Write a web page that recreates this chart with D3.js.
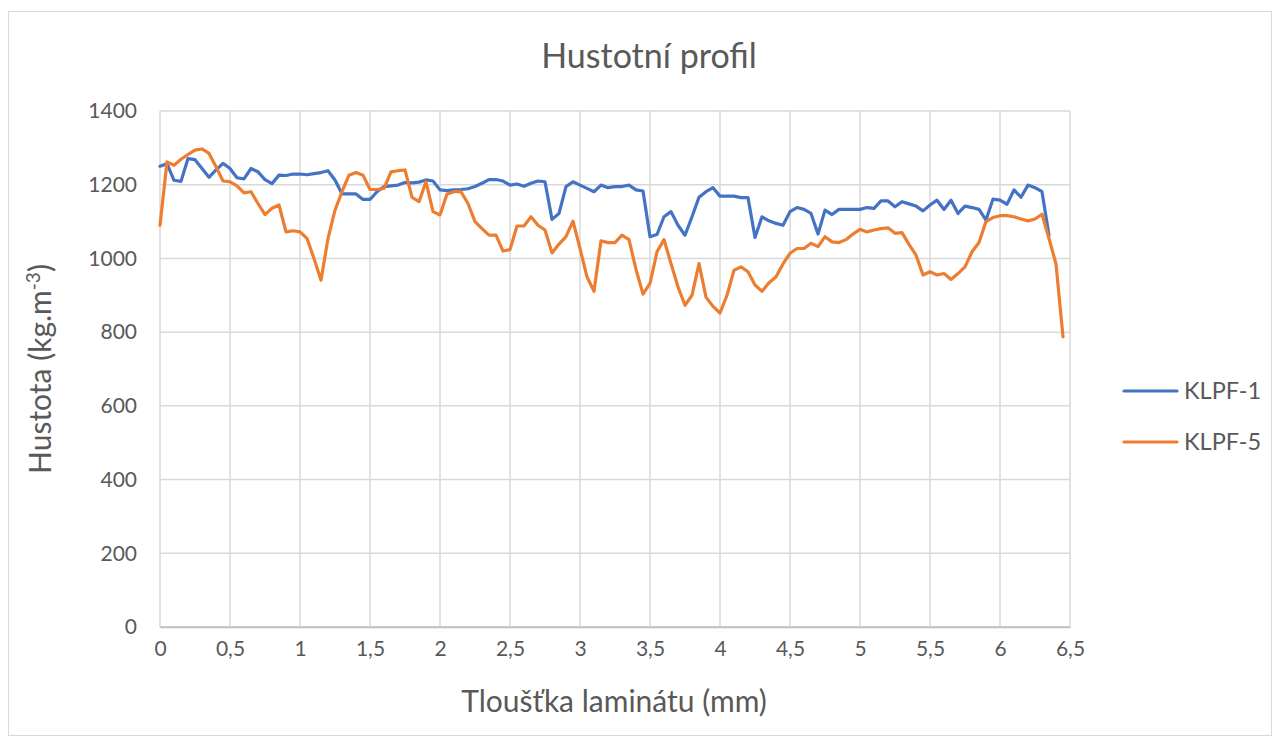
<!DOCTYPE html>
<html><head><meta charset="utf-8">
<script src="https://cdn.jsdelivr.net/npm/d3@7"></script>
<style>
body{margin:0;background:#fff}
svg text{font-family:Lato, "Open Sans", sans-serif; fill:#595959}
</style>
</head><body>
<svg id="c" width="1280" height="745"></svg>
<script>
const seriesNames = ["KLPF-1", "KLPF-5"];
const seriesColors = ["#4472C4", "#ED7D31"];
const step = 0.05; // thickness step between measured points (mm)
const klpf1 = [1250,1257,1212,1209,1271,1268,1244,1220,1240,1258,
  1244,1219,1216,1244,1235,1214,1203,1226,1225,1229,
  1229,1227,1230,1233,1238,1213,1175,1175,1175,1160,
  1160,1181,1195,1197,1199,1206,1205,1207,1213,1210,
  1186,1184,1186,1187,1189,1195,1204,1214,1214,1210,
  1199,1202,1196,1204,1210,1208,1106,1122,1195,1208,
  1199,1190,1181,1199,1192,1195,1195,1199,1186,1183,
  1059,1065,1113,1127,1090,1063,1113,1166,1181,1192,
  1169,1169,1169,1165,1165,1057,1113,1102,1095,1090,
  1127,1138,1133,1122,1066,1131,1119,1133,1133,1133,
  1133,1138,1136,1156,1156,1140,1154,1148,1142,1129,
  1145,1158,1133,1158,1122,1142,1138,1133,1104,1161,
  1158,1147,1186,1166,1199,1192,1181,1063];
const klpf5 = [1090,1262,1253,1269,1282,1294,1297,1285,1249,1210,
  1208,1197,1178,1181,1149,1119,1136,1145,1072,1075,
  1072,1054,1000,941,1054,1131,1181,1226,1233,1226,
  1187,1187,1190,1235,1238,1240,1166,1154,1208,1127,
  1118,1175,1181,1181,1149,1100,1081,1063,1063,1020,
  1024,1088,1088,1113,1090,1077,1015,1039,1059,1101,
  1027,950,911,1048,1043,1043,1063,1051,970,903,
  932,1018,1051,986,923,873,900,986,895,870,
  852,900,968,977,964,928,911,934,950,985,
  1014,1027,1027,1041,1032,1059,1045,1043,1051,1066,
  1079,1072,1077,1081,1083,1068,1070,1038,1009,955,
  964,955,959,943,959,977,1018,1043,1100,1111,
  1116,1116,1113,1107,1102,1107,1120,1054,985,787];
const xTicks = [0,0.5,1,1.5,2,2.5,3,3.5,4,4.5,5,5.5,6,6.5];
const yTicks = [0,200,400,600,800,1000,1200,1400];
const titleText = "Hustotní profil";
const xTitle = "Tloušťka laminátu (mm)";

const svg = d3.select("#c");
const x = d3.scaleLinear().domain([0, 6.5]).range([160, 1070]);
const y = d3.scaleLinear().domain([0, 1400]).range([627, 111]);

// outer chart border
svg.append("rect").attr("x", 8.5).attr("y", 11.5).attr("width", 1263).attr("height", 724)
  .attr("fill", "#fff").attr("stroke", "#d9d9d9").attr("stroke-width", 1);

// grid
svg.append("g").selectAll("line").data(yTicks).join("line")
  .attr("x1", x(0)).attr("x2", x(6.5)).attr("y1", d => y(d)).attr("y2", d => y(d))
  .attr("stroke", d => d === 0 ? "#bfbfbf" : "#d9d9d9").attr("stroke-width", 1.5);
svg.append("g").selectAll("line").data(xTicks).join("line")
  .attr("y1", y(0)).attr("y2", y(1400)).attr("x1", d => x(d)).attr("x2", d => x(d))
  .attr("stroke", "#d9d9d9").attr("stroke-width", 1.5);

// axes labels
const fmt = d => String(d).replace(".", ",");
const xa = svg.append("g").attr("transform", `translate(0,${y(0)})`)
  .call(d3.axisBottom(x).tickValues(xTicks).tickFormat(fmt).tickSize(0).tickPadding(14));
xa.select(".domain").attr("stroke", "#bfbfbf").attr("stroke-width", 1.5);
xa.selectAll("text").attr("font-size", 21).attr("fill", "#595959");
const ya = svg.append("g").attr("transform", `translate(${x(0)},0)`)
  .call(d3.axisLeft(y).tickValues(yTicks).tickFormat(d => String(d)).tickSize(0).tickPadding(23));
ya.select(".domain").remove();
ya.selectAll("text").attr("font-size", 21).attr("fill", "#595959");
svg.selectAll(".tick text").style("font-family", "Lato, sans-serif");

// lines
const line = d3.line().x((d, i) => x(i * step)).y(d => y(d));
[klpf1, klpf5].forEach((s, k) => {
  svg.append("path").datum(s).attr("d", line).attr("fill", "none")
    .attr("stroke", seriesColors[k]).attr("stroke-width", 3.2)
    .attr("stroke-linejoin", "round").attr("stroke-linecap", "round");
});

// titles
svg.append("text").attr("x", 649).attr("y", 68).attr("text-anchor", "middle")
  .attr("font-size", 34).text(titleText);
svg.append("text").attr("x", 614).attr("y", 712).attr("text-anchor", "middle")
  .attr("font-size", 30).text(xTitle);
const yt = svg.append("text").attr("transform", "translate(51,369) rotate(-90)")
  .attr("text-anchor", "middle").attr("font-size", 30);
yt.append("tspan").text("Hustota (kg.m");
yt.append("tspan").attr("font-size", 19).attr("dy", -11).text("-3");
yt.append("tspan").attr("dy", 11).text(")");

// legend
const leg = svg.append("g");
seriesNames.forEach((n, k) => {
  const ly = 391 + k * 51;
  leg.append("line").attr("x1", 1124).attr("x2", 1177).attr("y1", ly).attr("y2", ly)
    .attr("stroke", seriesColors[k]).attr("stroke-width", 3.2).attr("stroke-linecap", "round");
  leg.append("text").attr("x", 1184).attr("y", ly).attr("dy", "0.35em")
    .attr("font-size", 23.5).text(n);
});
</script>
</body></html>
